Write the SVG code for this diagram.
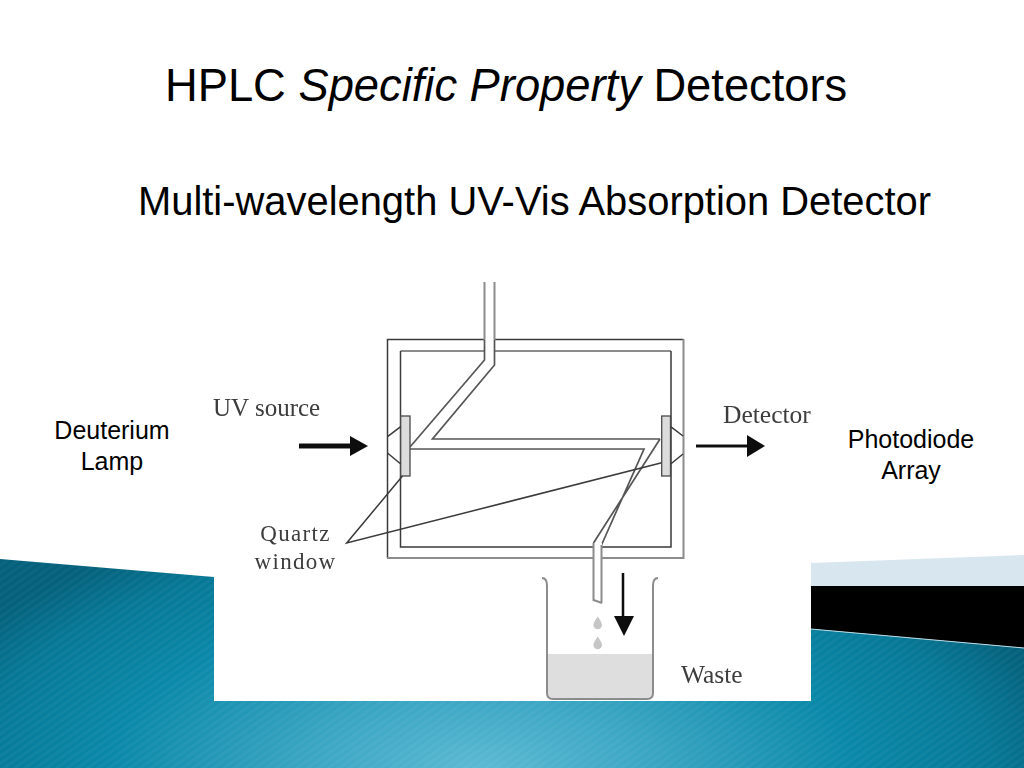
<svg xmlns="http://www.w3.org/2000/svg" width="1024" height="768" viewBox="0 0 1024 768">
<defs>
<radialGradient id="sea" gradientUnits="userSpaceOnUse" cx="0" cy="0" r="1" gradientTransform="translate(480 772) scale(600 270)">
<stop offset="0" stop-color="#5dbad4"/><stop offset="0.3" stop-color="#39a5c2"/><stop offset="0.62" stop-color="#0a88a8"/><stop offset="0.85" stop-color="#067896"/><stop offset="1" stop-color="#04607b"/>
</radialGradient>
<pattern id="hatch" patternUnits="userSpaceOnUse" width="6" height="6" patternTransform="rotate(55)">
<rect width="3" height="6" fill="#fff" opacity="0.035"/>
</pattern>
<filter id="soft" x="-5%" y="-5%" width="110%" height="110%"><feGaussianBlur stdDeviation="0.45"/></filter>
</defs>
<style>
.t{font-family:"Liberation Sans",Arial,sans-serif;fill:#000}
.s{font-family:"Liberation Serif","Times New Roman",serif;fill:#3c3c3c}
.w{fill:none;stroke:#555;stroke-width:1.7}
.g{fill:none;stroke:#8c8c8c;stroke-width:2}
.k{fill:none;stroke:#3a3a3a;stroke-width:1.5}
.win{fill:#dcdcdc;stroke:#4a4a4a;stroke-width:1.3}
.ar{fill:none;stroke:#111}
</style>
<rect width="1024" height="768" fill="#fff"/>
<g id="background">
<polygon points="811,563 1024,555 1024,587 811,587" fill="#d8e6ef"/>
<polygon points="811,586 1024,586 1024,648 811,629" fill="#000"/>
<polygon points="0,559 214,577 214,701 811,701 811,629 1024,648 1024,768 0,768" fill="url(#sea)"/>
<polygon points="0,559 214,577 214,701 811,701 811,629 1024,648 1024,768 0,768" fill="url(#hatch)"/>
<line x1="811" y1="629" x2="1024" y2="648" stroke="#b9dbe6" stroke-width="1"/>
</g>
<g id="titles">
<text class="t" x="165" y="101" font-size="45.300">HPLC <tspan font-style="italic">Specific Property </tspan>Detectors</text>
<text class="t" x="138" y="215" font-size="39.900">Multi-wavelength UV-Vis Absorption Detector</text>
</g>
<g id="lamp-label"><text class="t" font-size="25" text-anchor="middle"><tspan x="112" y="439">Deuterium</tspan><tspan x="112" y="470">Lamp</tspan></text></g>
<g id="array-label"><text class="t" font-size="25" text-anchor="middle"><tspan x="911" y="448">Photodiode</tspan><tspan x="911" y="479">Array</tspan></text></g>
<g filter="url(#soft)">
<g id="cell">
<path class="k" d="M683.500 339.500H387.500V558"/>
<path class="g" d="M683.500 339V558H387"/>
<path class="g" d="M400.500 351H671"/>
<path class="k" d="M400.500 351V547H671V351"/>
</g>
<g id="connectors">
<path d="M484.500 300H494.500V365L432.500 439H660L644 449H410V447L484.500 360Z" fill="#fff"/>
<path d="M660 439L593.500 543V560H602V546L644 449Z" fill="#fff"/>
<path class="g" d="M484.500 282V340M494.500 282V340"/>
<path class="w" d="M484.500 340V360L410 447M494.500 340V365L432.500 439H660"/>
<path class="w" d="M410 449H644L601.500 545M660 439L593.500 543"/>
<path d="M593.500 543H602V603L593.500 600Z" fill="#fff"/>
<path class="g" d="M602 603L593.500 600V543M601.500 545V603"/>
<path class="k" d="M405 473L346.700 543L661.700 462.700"/>
<path class="ar" stroke-width="5" d="M299 446H352"/>
<polygon points="350,436 368,446 350,456" fill="#111"/>
<path class="ar" stroke-width="3" d="M696 446H749"/>
<polygon points="747,435 765,446 747,457" fill="#111"/>
<path class="ar" stroke-width="2.500" d="M623 573V618"/>
<polygon points="614,616 634,616 624,636" fill="#111"/>
</g>
<g id="windows">
<rect class="win" x="400.700" y="416" width="9.300" height="60"/>
<rect class="win" x="661.700" y="416" width="8.800" height="60"/>
<path class="k" d="M387.500 436.700L400.700 426.700M387.500 453L400.700 464M670.700 426.700L683 436M670.700 464L683 454"/>
</g>
<g id="beaker">
<path d="M548 654H652V693Q652 699 646 699H554Q548 699 548 693Z" fill="#dedede"/>
<path class="g" d="M542 578Q547 578 547 586V693Q547 699 553 699H647Q653 699 653 693V586Q653 578 658 578"/>
<path d="M597.700 616.500C600 620 602 623 602 625A4.300 4.300 0 0 1 593.400 625C593.400 623 595.400 620 597.700 616.500Z" fill="#c6c6c6"/>
<path d="M597.700 636.500C600 640 602 643 602 645A4.300 4.300 0 0 1 593.400 645C593.400 643 595.400 640 597.700 636.500Z" fill="#c6c6c6"/>
</g>
<g id="image-labels">
<text class="s" x="213" y="416" font-size="25">UV source</text>
<text class="s" x="723" y="423" font-size="25.500">Detector</text>
<text class="s" font-size="23" letter-spacing="1.300" text-anchor="middle"><tspan x="295.500" y="541">Quartz</tspan><tspan x="295.500" y="569">window</tspan></text>
<text class="s" x="681" y="683" font-size="25.500">Waste</text>
</g>
</g>
</svg>
